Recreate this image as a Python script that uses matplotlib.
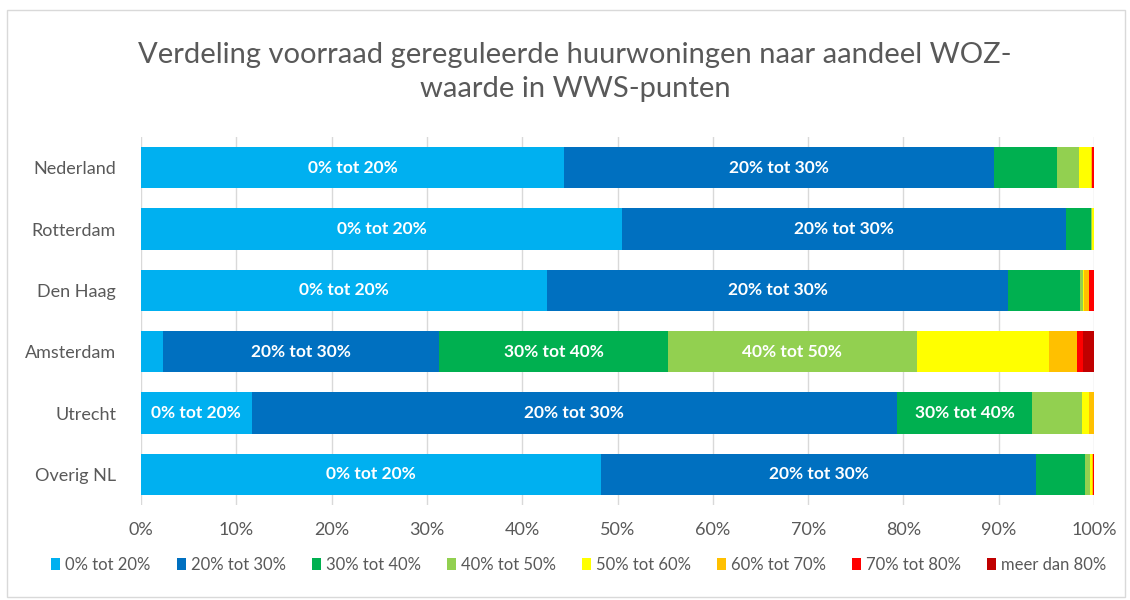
import numpy as np
import matplotlib.pyplot as plt
from matplotlib.patches import Rectangle

plt.rcParams['font.family'] = ['Lato', 'DejaVu Sans']

regions = ["Nederland", "Rotterdam", "Den Haag", "Amsterdam", "Utrecht", "Overig NL"]
series = ["0% tot 20%", "20% tot 30%", "30% tot 40%", "40% tot 50%",
          "50% tot 60%", "60% tot 70%", "70% tot 80%", "meer dan 80%"]
colors = ["#00B0F0", "#0070C0", "#00B050", "#92D050",
          "#FFFF00", "#FFC000", "#FF0000", "#C00000"]

# shares (%) per region, one list per class
s0_20 = [44.4, 50.5, 42.6, 2.3, 11.6, 48.3]
s20_30 = [45.1, 46.6, 48.4, 29.0, 67.7, 45.6]
s30_40 = [6.6, 2.6, 7.5, 24.0, 14.2, 5.2]
s40_50 = [2.3, 0.1, 0.3, 26.1, 5.2, 0.5]
s50_60 = [1.3, 0.2, 0.1, 13.9, 0.8, 0.2]
s60_70 = [0.1, 0.0, 0.6, 2.9, 0.5, 0.1]
s70_80 = [0.2, 0.0, 0.5, 0.6, 0.0, 0.1]
s80_up = [0.0, 0.0, 0.0, 1.2, 0.0, 0.0]
data = [s0_20, s20_30, s30_40, s40_50, s50_60, s60_70, s70_80, s80_up]

fig = plt.figure(figsize=(11.3, 6), dpi=100)
fig.patches.append(Rectangle((0.006, 0.005), 0.99, 0.978, transform=fig.transFigure,
                             fill=False, edgecolor="#d9d9d9", linewidth=1))
ax = fig.add_axes([0.1248, 0.1583, 0.8434, 0.6133])

y = np.arange(len(regions))
left = np.zeros(len(regions))
for name, vals, col in zip(series, data, colors):
    vals = np.array(vals)
    bars = ax.barh(y, vals, left=left, height=0.67, color=col, label=name, zorder=3)
    if series.index(name) < 4:
        for b, v in zip(bars, vals):
            if v > 10:
                ax.text(b.get_x() + b.get_width() / 2, b.get_y() + b.get_height() / 2,
                        name, ha="center", va="center", color="white",
                        fontsize=12.5, fontweight="bold", zorder=4)
    left += vals

ax.set_xlim(0, 100)
ax.set_ylim(len(regions) - 0.5, -0.5)
ax.set_yticks(y)
ax.set_yticklabels(regions)
ax.set_xticks(np.arange(0, 101, 10))
ax.set_xticklabels([f"{v}%" for v in range(0, 101, 10)])
ax.tick_params(axis="both", length=0, labelsize=13, labelcolor="#595959")
ax.tick_params(axis="x", pad=12)
ax.tick_params(axis="y", pad=18)
ax.grid(axis="x", color="#d9d9d9", linewidth=1, zorder=0)
for sp in ax.spines.values():
    sp.set_visible(False)

fig.text(0.509, 0.88, "Verdeling voorraad gereguleerde huurwoningen naar aandeel WOZ-\nwaarde in WWS-punten",
         ha="center", va="center", fontsize=21, color="#595959", linespacing=1.4)

fig.legend(loc="center", bbox_to_anchor=(0.512, 0.058), ncol=8, frameon=False,
           fontsize=12, handlelength=0.55, handleheight=0.75, handletextpad=0.3,
           columnspacing=1.55, labelcolor="#595959")

fig.savefig("out.png", dpi=100)
